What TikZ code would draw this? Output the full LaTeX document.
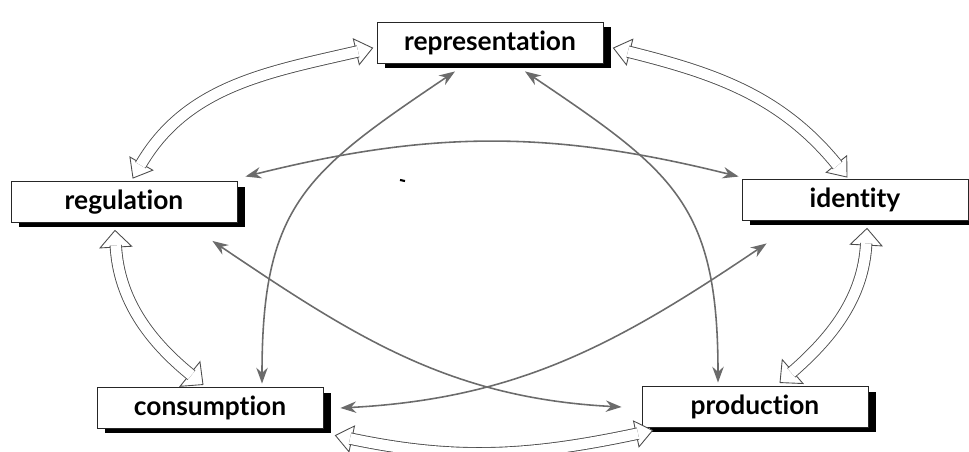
\documentclass[tikz,border=0pt]{standalone}
\usepackage{fontspec}
\newfontfamily\stagefont[Ligatures=NoCommon]{Lato}
\usetikzlibrary{
  arrows.meta,
  decorations.markings,
  shadows
}
\definecolor{linkgray}{gray}{0.42}
\definecolor{rimgray}{gray}{0.3}
\tikzset{
  stage/.style={
    draw=black!85,
    line width=0.5pt,
    fill=white,
    minimum width=4.52cm,
    minimum height=0.82cm,
    inner sep=0pt,
    font=\stagefont\bfseries\fontsize{15}{17}\selectfont,
    drop shadow={shadow xshift=0.16cm, shadow yshift=-0.1cm, opacity=1, fill=black}
  },
  link/.style={
    draw=linkgray,
    line width=0.9pt,
    {Stealth[length=9pt,width=6.5pt]}-{Stealth[length=9pt,width=6.5pt]}
  },
  flow/.style={
    preaction={decorate, decoration={markings,
      mark=at position 0 with {\draw[rimgray, fill=white, line width=0.5pt] (0,0) -- (9.5pt,#1) -- (9.5pt,-#1) -- cycle;},
      mark=at position -0.01pt with {\draw[rimgray, fill=white, line width=0.5pt] (0,0) -- (-9.5pt,#1) -- (-9.5pt,-#1) -- cycle;}
    }},
    postaction={draw=rimgray, line width=0.5pt, double=white, double distance=6pt,
      shorten <=8.5pt, shorten >=8.5pt}
  },
  flow/.default=7.5pt
}
\begin{document}
\begin{tikzpicture}[x=0.02cm, y=0.02cm]
  \useasboundingbox (0,0) rectangle (969,-452);

  \node[stage] (rep)  at (490,-43)  {representation};
  \node[stage] (reg)  at (124,-202) {regulation};
  \node[stage] (iden) at (855,-200) {identity};
  \node[stage] (cons) at (210,-408) {consumption};
  \node[stage] (prod) at (755,-407) {production};

  % the circuit
  \path[flow] ([shift={(9,3)}]reg.north) to[out=60, in=193] ([shift={(-4,-5)}]rep.west);
  \path[flow] ([shift={(10,-5)}]rep.east) to[out=-14, in=129] ([shift={(-8,2)}]iden.north);
  \path[flow=9pt] ([shift={(-9,-7.5)}]reg.south) to[out=-87, in=141] ([shift={(-7,2.5)}]cons.north);
  \path[flow=9pt] ([shift={(12,-7.5)}]iden.south) to[out=-93, in=41] ([shift={(25,3.5)}]prod.north);
  \path[flow] ([shift={(12,-6.5)}]cons.south east) to[out=-12, in=192] ([shift={(11,-2.5)}]prod.south west);

  % cross links
  \draw[link] ([shift={(-35,-7.5)}]rep.south) to[out=214, in=90, looseness=1.25] ([shift={(52,3.5)}]cons.north);
  \draw[link] ([shift={(35,-7.5)}]rep.south) to[out=-34, in=90, looseness=1.25] ([shift={(-37,3.5)}]prod.north);
  \draw[link] ([shift={(8,4.5)}]reg.north east) to[out=14, in=166] ([shift={(-3,2.5)}]iden.north west);
  \draw[link] ([shift={(-25,-18)}]reg.south east) to[out=-34, in=177] ([shift={(-20,0)}]prod.west);
  \draw[link] ([shift={(25,-22.5)}]iden.south west) to[out=214, in=3] ([shift={(17,0)}]cons.east);

  \draw[line width=1.2pt] (400,-180) -- (405,-181);
\end{tikzpicture}
\end{document}
